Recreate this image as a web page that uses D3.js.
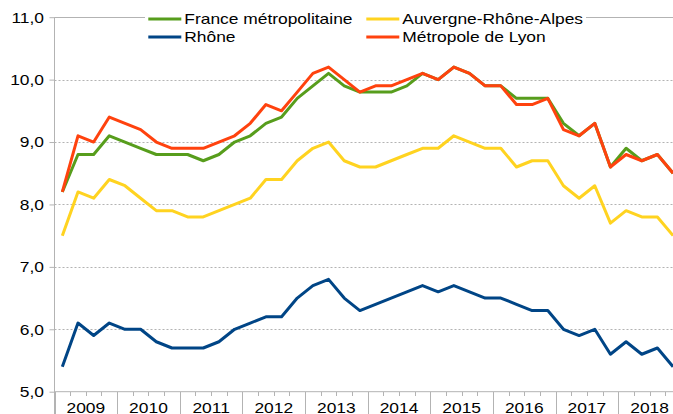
<!DOCTYPE html>
<html><head><meta charset="utf-8">
<script src="https://cdn.jsdelivr.net/npm/d3@7"></script>
<style>
html,body{margin:0;padding:0;background:#fff;}
svg{display:block;font-family:"Liberation Sans",Arial,sans-serif;}
</style></head>
<body><svg id="c" width="673" height="414"></svg>
<script>
const years = ["2009","2010","2011","2012","2013","2014","2015","2016","2017","2018"];
const quarters = ["T1","T2","T3","T4"];
const yTicks = [5,6,7,8,9,10,11];

const franceMetro = [8.2,8.8,8.8,9.1,9.0,8.9,8.8,8.8,8.8,8.7, 8.8,9.0,9.1,9.3,9.4,9.7,9.9,10.1,9.9,9.8, 9.8,9.8,9.9,10.1,10.0,10.2,10.1,9.9,9.9,9.7, 9.7,9.7,9.3,9.1,9.3,8.6,8.9,8.7,8.8,8.5];
const auvergne = [7.5,8.2,8.1,8.4,8.3,8.1,7.9,7.9,7.8,7.8, 7.9,8.0,8.1,8.4,8.4,8.7,8.9,9.0,8.7,8.6, 8.6,8.7,8.8,8.9,8.9,9.1,9.0,8.9,8.9,8.6, 8.7,8.7,8.3,8.1,8.3,7.7,7.9,7.8,7.8,7.5];
const rhone = [5.4,6.1,5.9,6.1,6.0,6.0,5.8,5.7,5.7,5.7, 5.8,6.0,6.1,6.2,6.2,6.5,6.7,6.8,6.5,6.3, 6.4,6.5,6.6,6.7,6.6,6.7,6.6,6.5,6.5,6.4, 6.3,6.3,6.0,5.9,6.0,5.6,5.8,5.6,5.7,5.4];
const lyon = [8.2,9.1,9.0,9.4,9.3,9.2,9.0,8.9,8.9,8.9, 9.0,9.1,9.3,9.6,9.5,9.8,10.1,10.2,10.0,9.8, 9.9,9.9,10.0,10.1,10.0,10.2,10.1,9.9,9.9,9.6, 9.6,9.7,9.2,9.1,9.3,8.6,8.8,8.7,8.8,8.5];

const seriesNames = ["France métropolitaine","Rhône","Auvergne-Rhône-Alpes","Métropole de Lyon"];
const seriesColors = ["#579d1c","#004586","#ffd320","#ff420e"];

const categories = [];
years.forEach(y => quarters.forEach(q => categories.push(y + " " + q)));

const series = [
  {name: seriesNames[1], color: seriesColors[1], values: rhone},
  {name: seriesNames[2], color: seriesColors[2], values: auvergne},
  {name: seriesNames[0], color: seriesColors[0], values: franceMetro},
  {name: seriesNames[3], color: seriesColors[3], values: lyon}
];

const svg = d3.select("#c");
const x0 = 54.5, qw = 15.66;
const x = d3.scaleBand().domain(categories).range([x0, x0 + qw * categories.length]).padding(0);
const xYear = d3.scaleBand().domain(years).range([x0, x0 + qw * categories.length]).padding(0);
const y = d3.scaleLinear().domain([5, 11]).range([391.7, 17.2]);
const SX = 1.16;
const axisCol = "#b3b3b3";

// gridlines
svg.append("g").selectAll("line").data(yTicks.filter(t => t > 5)).join("line")
  .attr("x1", x0).attr("x2", 673)
  .attr("y1", d => Math.round(y(d)) + 0.5).attr("y2", d => Math.round(y(d)) + 0.5)
  .attr("stroke", axisCol).attr("stroke-width", 1)
  .attr("stroke-dasharray", d => d === 11 ? null : "2,2");

// y axis
const yAx = svg.append("g").attr("transform", `translate(${x0},0)`)
  .call(d3.axisLeft(y).tickValues(yTicks).tickSize(5).tickFormat(d => d3.format(".1f")(d).replace(".", ",")));
yAx.select(".domain").remove();
yAx.selectAll(".tick line").attr("stroke", axisCol);
yAx.selectAll(".tick text").remove();
svg.append("line").attr("x1", x0).attr("x2", x0).attr("y1", y(11)).attr("y2", 414).attr("stroke", axisCol);
svg.append("g").selectAll("text").data(yTicks).join("text")
  .attr("transform", d => `translate(44,${y(d) + 5.4}) scale(${SX},1)`)
  .attr("text-anchor", "end").attr("font-size", 15).attr("fill", "#000")
  .text(d => d3.format(".1f")(d).replace(".", ","));

// x axis baseline
svg.append("line").attr("x1", x0).attr("x2", 673).attr("y1", 391.7).attr("y2", 391.7).attr("stroke", axisCol);
// quarter ticks (minor) and year ticks (major)
const bounds = d3.range(categories.length + 1);
svg.append("g").selectAll("line").data(bounds).join("line")
  .attr("x1", i => Math.round(x0 + i * qw) + 0.5).attr("x2", i => Math.round(x0 + i * qw) + 0.5)
  .attr("y1", 392).attr("y2", i => i % 4 === 0 ? 414 : 396)
  .attr("stroke", axisCol);
svg.append("g").selectAll("text").data(years).join("text")
  .attr("transform", d => `translate(${xYear(d) + xYear.bandwidth() / 2},412.5) scale(${SX},1)`)
  .attr("text-anchor", "middle").attr("font-size", 15).attr("fill", "#000")
  .text(d => d);

// lines
const line = d3.line().x((d, i) => x(categories[i]) + x.bandwidth() / 2).y(d => y(d));
svg.append("g").selectAll("path").data(series).join("path")
  .attr("d", d => line(d.values))
  .attr("fill", "none").attr("stroke", d => d.color).attr("stroke-width", 3)
  .attr("stroke-linejoin", "round");

// legend
svg.append("rect").attr("x", 145).attr("y", 0).attr("width", 441).attr("height", 46).attr("fill", "#fff");
const legItems = [
  {name: seriesNames[0], color: seriesColors[0], lx: 148.3, ly: 19},
  {name: seriesNames[1], color: seriesColors[1], lx: 148.3, ly: 37},
  {name: seriesNames[2], color: seriesColors[2], lx: 366.3, ly: 19},
  {name: seriesNames[3], color: seriesColors[3], lx: 366.3, ly: 37}
];
const lg = svg.append("g").selectAll("g").data(legItems).join("g");
lg.append("line").attr("x1", d => d.lx).attr("x2", d => d.lx + 33).attr("y1", d => d.ly).attr("y2", d => d.ly)
  .attr("stroke", d => d.color).attr("stroke-width", 3);
lg.append("text").attr("transform", d => `translate(${d.lx + 36},${d.ly + 5.2}) scale(${SX},1)`)
  .attr("font-size", 15).attr("fill", "#000").text(d => d.name);
</script>
</body></html>
